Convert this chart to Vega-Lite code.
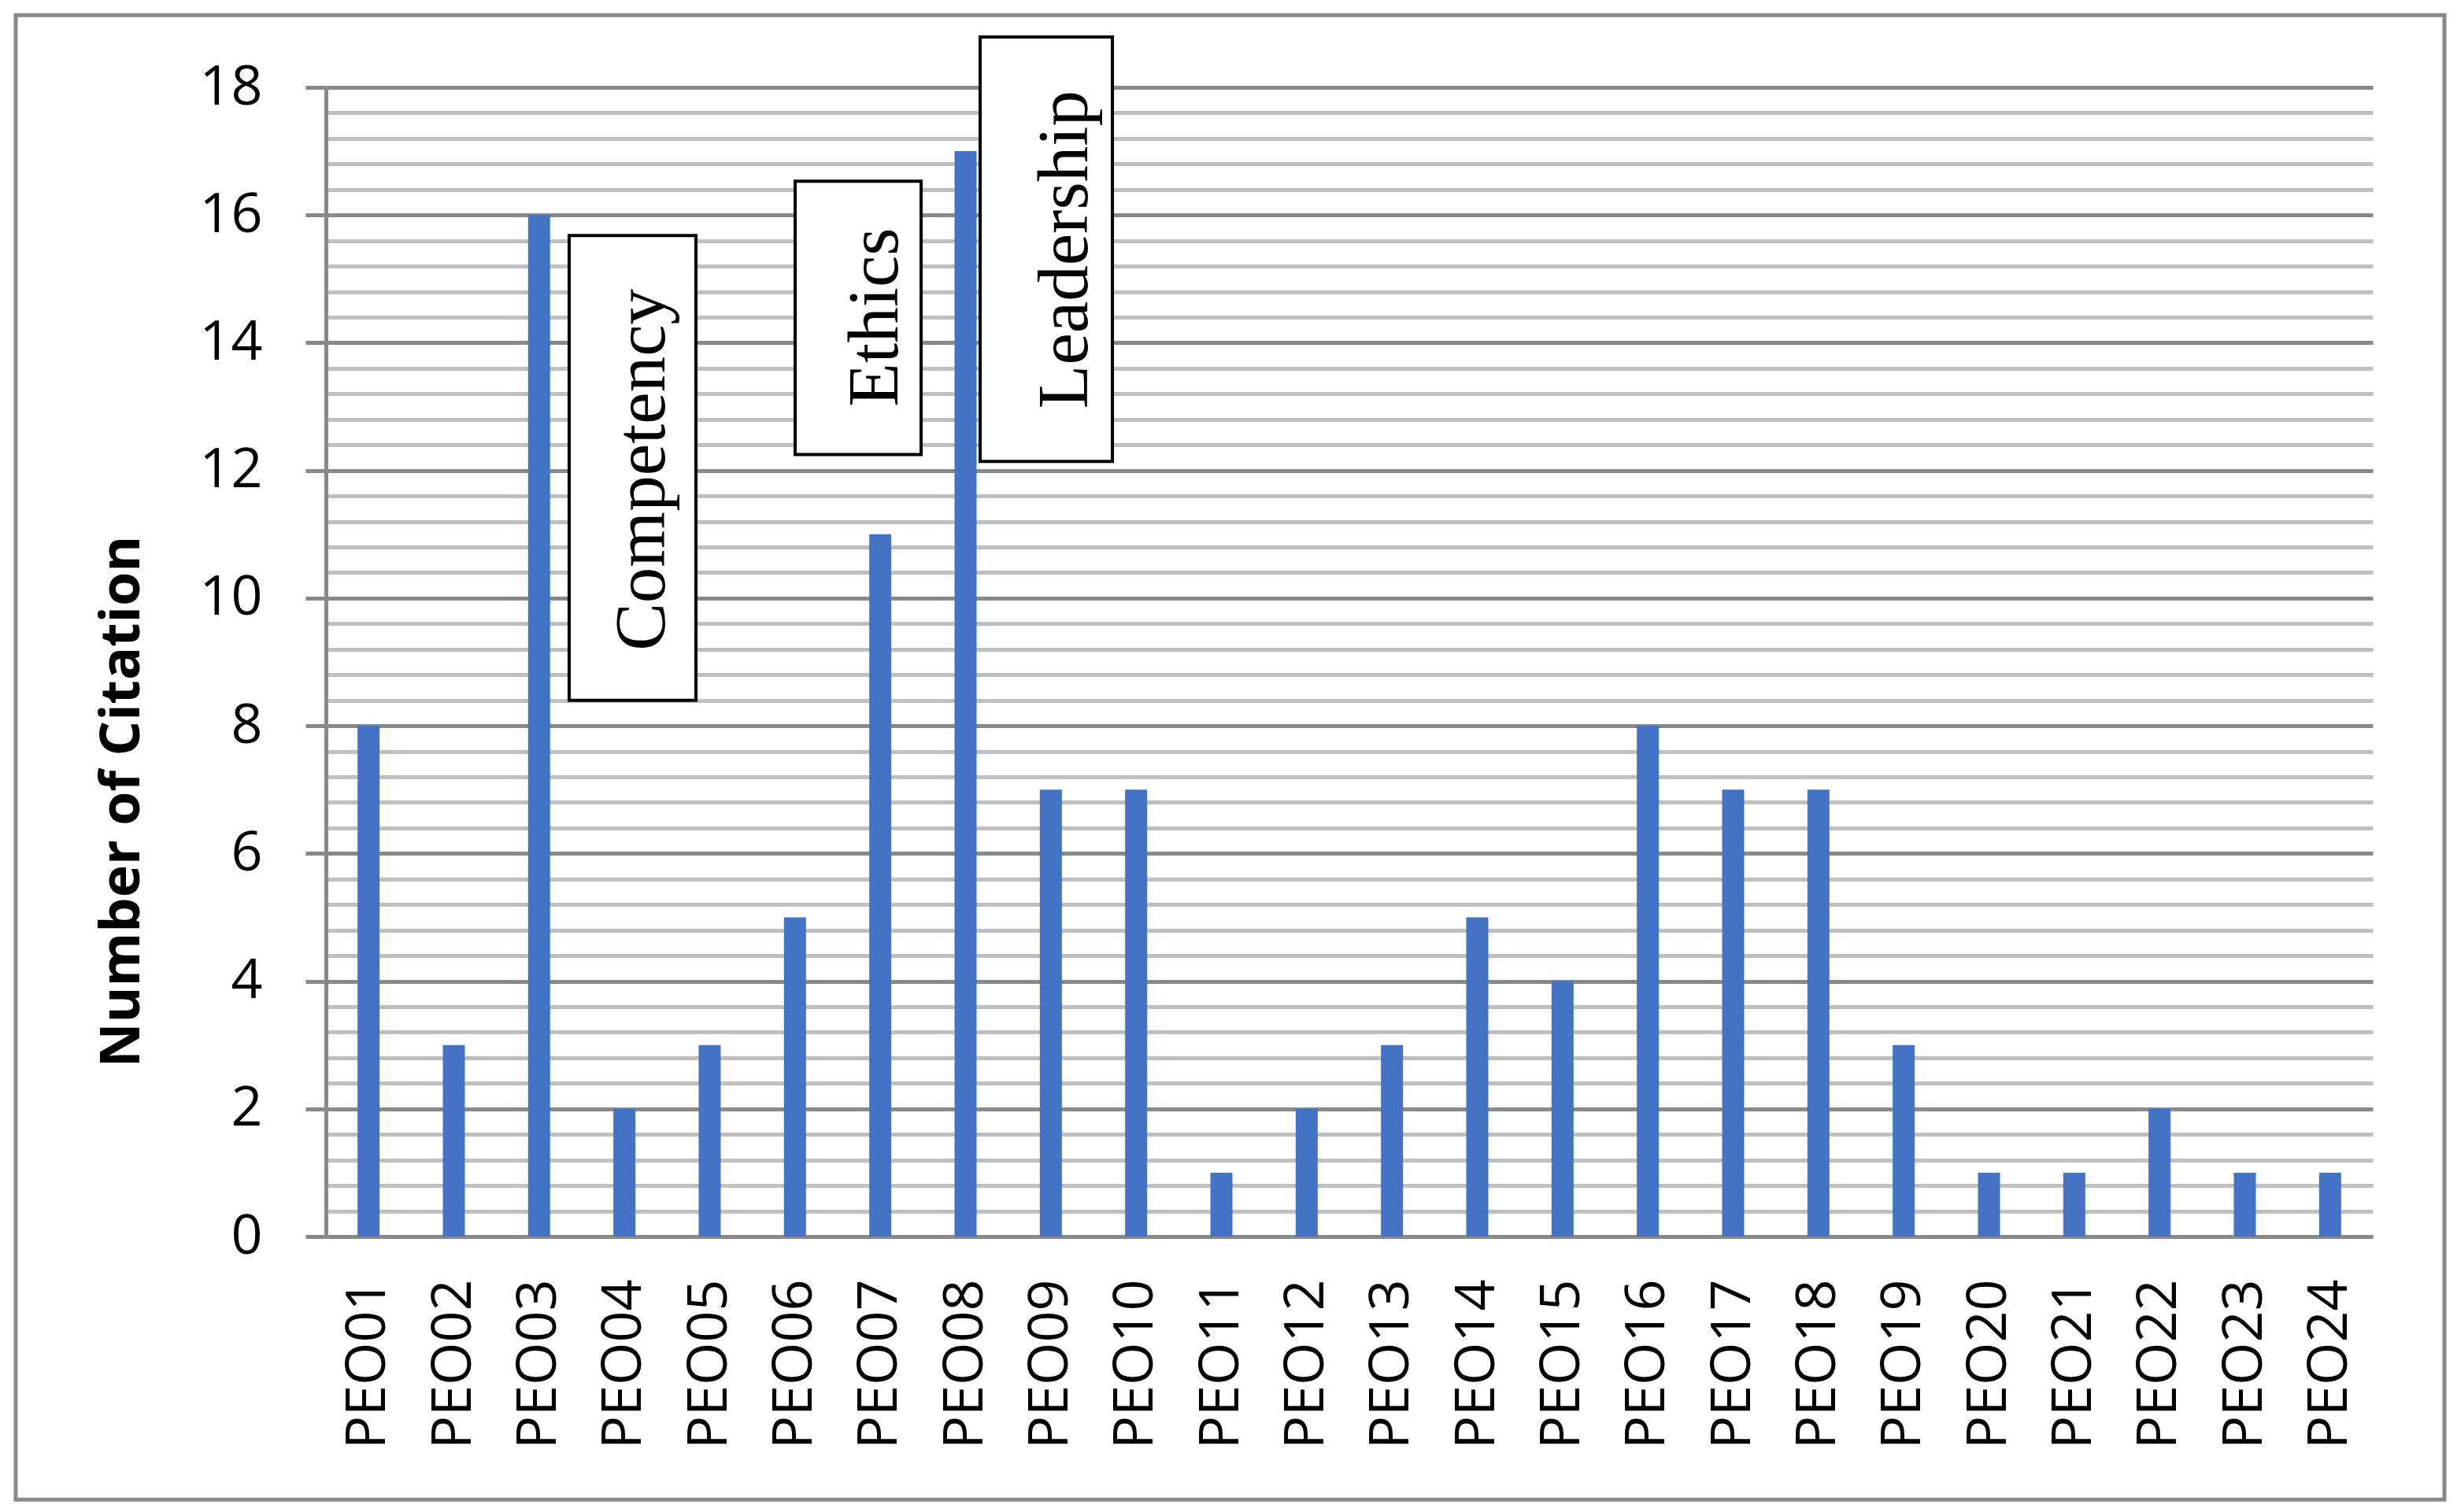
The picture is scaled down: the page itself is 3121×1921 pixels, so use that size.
{
  "$schema": "https://vega.github.io/schema/vega-lite/v6.json",
  "width": 2600,
  "height": 1460,
  "autosize": {"type": "none"},
  "padding": {"left": 414, "top": 111, "right": 107, "bottom": 350},
  "background": "white",
  "config": {"view": {"stroke": null}},
  "datasets": {
    "peo": [
      {"peo": "PEO01", "n": 8}, {"peo": "PEO02", "n": 3}, {"peo": "PEO03", "n": 16}, {"peo": "PEO04", "n": 2},
      {"peo": "PEO05", "n": 3}, {"peo": "PEO06", "n": 5}, {"peo": "PEO07", "n": 11}, {"peo": "PEO08", "n": 17},
      {"peo": "PEO09", "n": 7}, {"peo": "PEO10", "n": 7}, {"peo": "PEO11", "n": 1}, {"peo": "PEO12", "n": 2},
      {"peo": "PEO13", "n": 3}, {"peo": "PEO14", "n": 5}, {"peo": "PEO15", "n": 4}, {"peo": "PEO16", "n": 8},
      {"peo": "PEO17", "n": 7}, {"peo": "PEO18", "n": 7}, {"peo": "PEO19", "n": 3}, {"peo": "PEO20", "n": 1},
      {"peo": "PEO21", "n": 1}, {"peo": "PEO22", "n": 2}, {"peo": "PEO23", "n": 1}, {"peo": "PEO24", "n": 1}
    ],
    "frame": [{"x0": -3.637, "x1": 24.84, "y0": 19.13, "y1": -4.12}],
    "notes": [
      {"label": "Competency", "x0": 2.852, "x1": 4.339, "y0": 15.68, "y1": 8.40, "tx": 3.72, "ty": 12.01},
      {"label": "Ethics", "x0": 5.502, "x1": 6.979, "y0": 16.53, "y1": 12.25, "tx": 6.45, "ty": 14.40},
      {"label": "Leadership", "x0": 7.671, "x1": 9.222, "y0": 18.79, "y1": 12.14, "tx": 8.677, "ty": 15.46}
    ]
  },
  "layer": [
    {
      "data": {"name": "peo"},
      "mark": {"type": "bar", "width": 28, "color": "#4472C4"},
      "encoding": {
        "x": {
          "field": "peo", "type": "nominal", "sort": null,
          "scale": {"paddingInner": 0, "paddingOuter": 0},
          "axis": {
            "title": null, "labelAngle": -90, "labelAlign": "right", "labelBaseline": "middle",
            "labelPadding": 54, "labelLimit": 0, "ticks": false, "grid": false,
            "domainColor": "#898989", "domainWidth": 5,
            "labelFont": "Open Sans", "labelFontSize": 70, "labelColor": "black"
          }
        },
        "y": {
          "field": "n", "type": "quantitative",
          "scale": {"domain": [0, 18], "nice": false, "zero": true},
          "axis": {
            "values": [0,0.4,0.8,1.2,1.6,2,2.4,2.8,3.2,3.6,4,4.4,4.8,5.2,5.6,6,6.4,6.8,7.2,7.6,8,8.4,8.8,9.2,9.6,10,10.4,10.8,11.2,11.6,12,12.4,12.8,13.2,13.6,14,14.4,14.8,15.2,15.6,16,16.4,16.8,17.2,17.6,18],
            "tickCount": 1000,
            "labelExpr": "datum.value % 2 === 0 ? format(datum.value, 'd') : ''",
            "labelOverlap": false,
            "labelBound": false,
            "grid": true,
            "gridColor": {"condition": {"test": "datum.value % 2 === 0", "value": "#898989"}, "value": "#bfbfbf"},
            "gridWidth": 5,
            "ticks": true,
            "tickSize": 26,
            "tickColor": {"condition": {"test": "datum.value % 2 === 0", "value": "#898989"}, "value": "transparent"},
            "tickWidth": 5,
            "domainColor": "#898989", "domainWidth": 5,
            "labelFont": "Open Sans", "labelFontSize": 70, "labelColor": "black", "labelPadding": 55,
            "title": "Number of Citation",
            "titleFont": "Open Sans", "titleFontSize": 70, "titleFontWeight": "bold", "titleColor": "black",
            "titleAngle": 270, "titleAlign": "center", "titleBaseline": "middle",
            "titleX": -259, "titleY": 907
          }
        }
      }
    },
    {
      "layer": [
        {
          "data": {"name": "frame"},
          "mark": {"type": "rect", "fill": null, "fillOpacity": 0, "stroke": "#898989", "strokeWidth": 5},
          "encoding": {
            "x": {"field": "x0", "type": "quantitative", "scale": {"domain": [0, 24], "nice": false, "zero": false}, "axis": null},
            "x2": {"field": "x1"},
            "y": {"field": "y0", "type": "quantitative", "axis": null},
            "y2": {"field": "y1"}
          }
        },
        {
          "data": {"name": "notes"},
          "mark": {"type": "rect", "fill": "white", "stroke": "black", "strokeWidth": 4},
          "encoding": {
            "x": {"field": "x0", "type": "quantitative", "scale": {"domain": [0, 24], "nice": false, "zero": false}, "axis": null},
            "x2": {"field": "x1"},
            "y": {"field": "y0", "type": "quantitative", "axis": null},
            "y2": {"field": "y1"}
          }
        },
        {
          "data": {"name": "notes"},
          "mark": {"type": "text", "angle": 270, "align": "center", "baseline": "middle", "font": "Liberation Serif", "fontSize": 91, "color": "black"},
          "encoding": {
            "x": {"field": "tx", "type": "quantitative", "scale": {"domain": [0, 24], "nice": false, "zero": false}, "axis": null},
            "y": {"field": "ty", "type": "quantitative", "axis": null},
            "text": {"field": "label"}
          }
        }
      ]
    }
  ],
  "resolve": {"scale": {"x": "independent"}, "axis": {"y": "independent"}}
}
